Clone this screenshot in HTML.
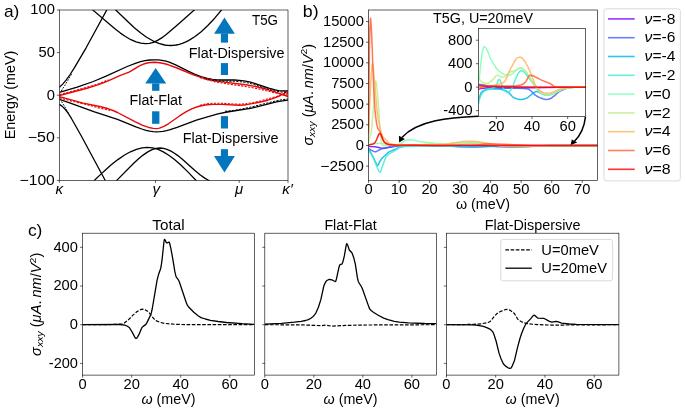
<!DOCTYPE html>
<html><head><meta charset="utf-8"><style>
html,body{margin:0;padding:0;background:#fff;}
body{width:685px;height:411px;overflow:hidden;}
svg{display:block;will-change:transform;font-family:"Liberation Sans",sans-serif;font-size:13.8px;}
</style></head><body>
<svg width="685" height="411" viewBox="0 0 685 411">
<rect width="685" height="411" fill="#fff"/>
<defs><clipPath id="ca"><rect x="59.35" y="10.0" width="228.65" height="170.4"/></clipPath><clipPath id="cb"><rect x="368.5" y="10" width="229" height="170.4"/></clipPath><clipPath id="ci"><rect x="478.5" y="28.5" width="107" height="88"/></clipPath><clipPath id="cc1"><rect x="82.55" y="233.4" width="171.95" height="141.6"/></clipPath><clipPath id="cc2"><rect x="264.65" y="233.4" width="171.85" height="141.6"/></clipPath><clipPath id="cc3"><rect x="446.65" y="233.4" width="172" height="141.6"/></clipPath></defs>
<path d="M59.4 92.4 77.2 87.1 93.3 81.5 106.1 76.2 127.2 66.5 135.4 63.3 140.5 61.7 145 60.7 149.6 60 154.2 59.8 158.3 59.9 162 60.4 166.1 61.2 169.8 62.4 175.7 64.9 188.1 71.1 194.5 74.1 200.9 76.6 207.4 78.4 212.4 79.4 217 79.9 221.1 80 234.4 80 239.4 80.3 244 80.8 248.1 81.6 252.3 82.7 268.8 88.1 275.2 89.9 278.8 90.6 282 90.9 285.3 91 288 90.8" fill="none" stroke="#000" stroke-width="1.3" stroke-linejoin="round" clip-path="url(#ca)"/>
<path d="M59.4 99.4 69 102.6 93.7 111.7 117.5 119.4 135.9 126.9 141.8 129 146 130.3 149.6 131.1 153.3 131.6 156.5 131.8 159.7 131.7 162.9 131.3 166.6 130.6 170.2 129.7 177.1 127.4 196.4 120.1 209.2 116.3 217.9 113.9 227.1 112 250.4 108.3 256.8 106.9 276.5 101.9 282.5 100.8 288 100.2" fill="none" stroke="#000" stroke-width="1.3" stroke-linejoin="round" clip-path="url(#ca)"/>
<path d="M59.4 95.7 67.1 93.5 87.8 88 99.2 84.4 107 81.4 119.8 75.6 129 72.1 131.7 70.7 138.6 66.4 142.7 64.4 145.5 63.5 148.2 62.8 151 62.5 154.2 62.3 157.4 62.5 161.1 63 164.7 63.8 168.4 64.8 175.7 67.5 194.1 75.1 200 77.1 206 78.8 212.9 80.3 220.2 81.6 245.8 84.8 256.4 86.7 263.7 88.5 271 90.6 279.3 93.3 288 96.5" fill="none" stroke="#e80808" stroke-width="1.4" stroke-linejoin="round" clip-path="url(#ca)"/>
<path d="M59.4 96.8 65.8 98.4 83.2 103.1 101 106.8 108.4 108.8 113 110.5 117.5 112.5 135.4 121.9 142.7 125.3 146.4 126.7 150.1 127.8 153.3 128.4 156 128.6 158.3 128.4 160.2 127.9 164.3 126.2 168.4 123.8 179.9 115.7 186.3 111.7 192.2 108.6 198.2 106.5 205.1 105 212.9 104.4 221.6 104.4 239.4 105.2 244 105 248.1 104.4 262.8 101.5 267.8 100.2 272 98.9 276.1 97.4 280.2 95.5 284.3 93.3 288 90.9" fill="none" stroke="#e80808" stroke-width="1.4" stroke-linejoin="round" clip-path="url(#ca)"/>
<path d="M59.4 94.7 94.4 85.2 99.1 83.6 108.4 79.8" fill="none" stroke="#e80808" stroke-width="1.2" stroke-dasharray="2.2 1.4" stroke-linejoin="round" clip-path="url(#ca)"/>
<path d="M59.4 97.8 71.5 101.1 85.8 104.3 96.9 107.4 110 110.3" fill="none" stroke="#e80808" stroke-width="1.2" stroke-dasharray="2.2 1.4" stroke-linejoin="round" clip-path="url(#ca)"/>
<path d="M205 78.7 209.7 79.9 215 80.7 220 81 234.6 81.3 239.8 81.7 244.4 82.3 248.6 83.1 252.9 84.2 268.7 89.2 275.2 91 282 92.1 288 92.3" fill="none" stroke="#000" stroke-width="1.0" stroke-dasharray="2.2 1.3" stroke-linejoin="round" clip-path="url(#ca)"/>
<path d="M200 77.7 207.8 80 216.2 82 225 83.5 244.3 86.3 252.6 87.7 260.1 89.2 278.1 93.6 283.2 94.6 288 95.2" fill="none" stroke="#e80808" stroke-width="1.1" stroke-dasharray="2.2 1.3" stroke-linejoin="round" clip-path="url(#ca)"/>
<path d="M200 105.4 203.2 104.5 206.3 103.9 213.4 103.2 220.6 103.2 237.4 104.2 242 104.1 246.9 103.6 253.3 102.5 261 100.7 288 93.4" fill="none" stroke="#e80808" stroke-width="1.1" stroke-dasharray="2.2 1.3" stroke-linejoin="round" clip-path="url(#ca)"/>
<path d="M225 111.3 233.3 110.5 242.5 108.9 252.4 106.7 275.2 101.1 281.9 99.7 288 98.9" fill="none" stroke="#000" stroke-width="1.0" stroke-dasharray="2.2 1.3" stroke-linejoin="round" clip-path="url(#ca)"/>
<path d="M59.4 87.3 62.7 84.1 66.3 79.9 70.1 74.5 74.5 67.6 86.4 47.3 107.3 9" fill="none" stroke="#000" stroke-width="1.3" stroke-linejoin="round" clip-path="url(#ca)"/>
<path d="M59.4 104.4 62 106.1 64.9 109 67.9 112.9 71.3 118.2 80.9 135.2 105.4 180.7" fill="none" stroke="#000" stroke-width="1.3" stroke-linejoin="round" clip-path="url(#ca)"/>
<path d="M92.3 9.6 114.9 28.8 120.4 33.1 125.4 36.5 130.9 39.7 136.1 41.9 140.8 43.2 145.5 43.7 149.6 43.3 153.5 42.3 157.6 40.4 161.7 37.9 166.5 34.2 175.9 26.2 186.4 17.1 194.8 9.5" fill="none" stroke="#000" stroke-width="1.3" stroke-linejoin="round" clip-path="url(#ca)"/>
<path d="M114.8 9.1 127.7 21.5 134.3 27.7 140.8 33 146.6 37.2 152.8 40.8 158.8 43.4 164.6 45 167.6 45.4 170.4 45.5 173.2 45.4 176.2 45 179.2 44.3 182.3 43.4 185.3 42.2 188.5 40.6 194.7 36.7 201.2 31.7 207.8 25.5 214.7 18.2 222 9.4" fill="none" stroke="#000" stroke-width="1.3" stroke-linejoin="round" clip-path="url(#ca)"/>
<path d="M94 180.7 103.3 171.9 110.9 165.1 117.9 159.6 124.2 155.2 130.4 151.8 136.4 149.3 142.1 147.8 147.5 147.3 152.6 147.8 157.5 149.2 162.9 151.6 168.4 155 174.2 159.3 180.6 164.8 187.6 171.6 196.6 181" fill="none" stroke="#000" stroke-width="1.3" stroke-linejoin="round" clip-path="url(#ca)"/>
<path d="M116 181.1 133.7 163.3 138.6 158.8 143.1 155.1 147.8 151.9 152.1 149.7 156.2 148.4 160.2 148 163.6 148.3 166.9 149.3 170.5 150.9 174.5 153.2 177.8 155.6 181.8 158.8 194.9 170.5 200 174.7 205.1 178.4 209.8 181" fill="none" stroke="#000" stroke-width="1.3" stroke-linejoin="round" clip-path="url(#ca)"/>
<path d="M61.2 91 65.3 84.7 72 73.4" fill="none" stroke="#000" stroke-width="0.9" stroke-dasharray="1.8 1.2" stroke-linejoin="round" clip-path="url(#ca)"/>
<path d="M61.5 101.5 65.1 107.2 68.5 113.5" fill="none" stroke="#000" stroke-width="0.9" stroke-dasharray="1.8 1.2" stroke-linejoin="round" clip-path="url(#ca)"/>
<polygon points="145.2,83.6 155.65,68 166.2,83.6" fill="#0476bd"/>
<rect x="152.1" y="83.4" width="7.3" height="7.4" fill="#0476bd"/>
<rect x="152.1" y="111.3" width="7.3" height="12.5" fill="#0476bd"/>
<polygon points="214.1,33.7 224.45,17.6 234.9,33.7" fill="#0476bd"/>
<rect x="220.9" y="33.5" width="7.1" height="9.1" fill="#0476bd"/>
<rect x="220.9" y="63.1" width="7.1" height="11.9" fill="#0476bd"/>
<rect x="220.9" y="116.1" width="7.1" height="12.4" fill="#0476bd"/>
<rect x="220.9" y="149.2" width="7.1" height="7.1" fill="#0476bd"/>
<polygon points="214,156.1 224.45,172.4 234.9,156.1" fill="#0476bd"/>
<text x="129.64" y="105.4" text-anchor="start" textLength="52.39" lengthAdjust="spacingAndGlyphs" fill="#000" >Flat-Flat</text>
<text x="188.74" y="57.6" text-anchor="start" textLength="95.79" lengthAdjust="spacingAndGlyphs" fill="#000" >Flat-Dispersive</text>
<text x="182.74" y="143.3" text-anchor="start" textLength="95.79" lengthAdjust="spacingAndGlyphs" fill="#000" >Flat-Dispersive</text>
<text x="252" y="24.9" text-anchor="start" textLength="25.98" lengthAdjust="spacingAndGlyphs" fill="#000" >T5G</text>
<rect x="59.35" y="10" width="228.65" height="170.4" fill="none" stroke="#000" stroke-width="0.62"/>
<line x1="56.85" y1="10" x2="59.35" y2="10" stroke="#000" stroke-width="0.62"/>
<text x="54.85" y="14.4" text-anchor="end" textLength="24.53" lengthAdjust="spacingAndGlyphs" fill="#000" >100</text>
<line x1="56.85" y1="52.6" x2="59.35" y2="52.6" stroke="#000" stroke-width="0.62"/>
<text x="54.85" y="57" text-anchor="end" textLength="16.35" lengthAdjust="spacingAndGlyphs" fill="#000" >50</text>
<line x1="56.85" y1="95.2" x2="59.35" y2="95.2" stroke="#000" stroke-width="0.62"/>
<text x="54.85" y="99.6" text-anchor="end" textLength="8.18" lengthAdjust="spacingAndGlyphs" fill="#000" >0</text>
<line x1="56.85" y1="137.8" x2="59.35" y2="137.8" stroke="#000" stroke-width="0.62"/>
<text x="54.85" y="142.2" text-anchor="end" textLength="27.12" lengthAdjust="spacingAndGlyphs" fill="#000" >−50</text>
<line x1="56.85" y1="180.4" x2="59.35" y2="180.4" stroke="#000" stroke-width="0.62"/>
<text x="54.85" y="184.8" text-anchor="end" textLength="35.29" lengthAdjust="spacingAndGlyphs" fill="#000" >−100</text>
<line x1="59.35" y1="180.4" x2="59.35" y2="182.9" stroke="#000" stroke-width="0.62"/>
<line x1="155.5" y1="180.4" x2="155.5" y2="182.9" stroke="#000" stroke-width="0.62"/>
<line x1="239.2" y1="180.4" x2="239.2" y2="182.9" stroke="#000" stroke-width="0.62"/>
<line x1="288" y1="180.4" x2="288" y2="182.9" stroke="#000" stroke-width="0.62"/>
<text x="59.3" y="194.3" text-anchor="middle" textLength="7.57" lengthAdjust="spacingAndGlyphs" fill="#000" ><tspan style="font-style:italic;">κ</tspan></text>
<text x="156.3" y="194.3" text-anchor="middle" textLength="7.6" lengthAdjust="spacingAndGlyphs" fill="#000" ><tspan style="font-style:italic;">γ</tspan></text>
<text x="239" y="194.3" text-anchor="middle" textLength="8.18" lengthAdjust="spacingAndGlyphs" fill="#000" ><tspan style="font-style:italic;">μ</tspan></text>
<text x="287.6" y="194.3" text-anchor="middle" textLength="10.49" lengthAdjust="spacingAndGlyphs" fill="#000" ><tspan style="font-style:italic;">κ′</tspan></text>
<text x="14.7" y="94.95" text-anchor="middle" textLength="88.54" lengthAdjust="spacingAndGlyphs" transform="rotate(-90 14.7 94.95)" fill="#000" >Energy (meV)</text>
<text x="3.9" y="16.6" text-anchor="start" textLength="15.45" lengthAdjust="spacingAndGlyphs" fill="#000"  font-size="16.1">a)</text>
<path d="M368.5 146.1 369.6 146.4 375.2 146.7 380.9 148.1 383.5 148.5 396 145.9 404.9 145.6 597.5 145.4" fill="none" stroke="#8000ff" stroke-width="1.5" stroke-linejoin="round" stroke-opacity="0.85" clip-path="url(#cb)"/>
<path d="M368.5 147.9 369 148.8 370.2 149.8 373.8 151.4 375.4 151.7 376.6 151.4 381.2 149 382.9 148.3 388.2 147.3 395.2 146.3 398 145.2 398.9 145 433.4 145.6 483.8 145.7 498.5 146.7 514.7 147.2 523.6 147 536.7 146.1 551.1 145.6 597.5 145.4" fill="none" stroke="#4062fa" stroke-width="1.5" stroke-linejoin="round" stroke-opacity="0.85" clip-path="url(#cb)"/>
<path d="M368.5 148.8 369.3 150.5 371.4 153.7 376.7 164.6 377.2 165.3 377.7 165.5 378.3 164.8 379.5 162 381.5 158.8 386.5 154 388.7 152.2 390.7 151.1 395.2 149.3 398.6 147.4 404.2 146.2 415.4 145.7 437.7 145.7 447.8 146.1 460.5 147 473.8 147.2 482.3 147 498 146.1 516.5 146.6 550.3 145.6 597.5 145.4" fill="none" stroke="#00b4ec" stroke-width="1.5" stroke-linejoin="round" stroke-opacity="0.85" clip-path="url(#cb)"/>
<path d="M368.5 149.2 368.8 150.8 369.3 151.8 371.2 154.1 373.2 157.5 377.4 168 379.2 171.5 380 172.3 380.3 172.1 380.6 171.5 383.5 163.2 385.3 158.5 386.2 156.7 387.3 155.4 389.1 153.8 394.2 151.2 399.2 147.7 401.5 146.9 404.4 146.4 410.8 145.9 427 145.4 434.5 144.3 436.3 144.5 444.1 146 450.8 146.2 455.9 145.7 462.9 144.2 467 143.5 472.2 143.1 479.6 143.5 502.6 146 514.5 146.6 524.9 146.4 550.6 145.6 597.5 145.4" fill="none" stroke="#40ecd4" stroke-width="1.5" stroke-linejoin="round" stroke-opacity="0.85" clip-path="url(#cb)"/>
<path d="M368.5 145.3 374.6 143.8 377.1 143.5 380.3 143.4 382.2 143.6 391.6 145.4 396.8 145.2 399.1 144.7 400.1 144.2 403.2 141.9 405.5 140.5 407.2 140 409.1 139.7 413.3 140.1 419.2 141.4 428.1 142.6 434.5 143.2 442.7 143.7 451 143.8 456.8 143.6 468.7 142.8 472.2 142.8 481.2 143.4 498.5 145.6 506 146.2 513 146.5 524.5 146.5 542 145.7 551.1 145.6 597.5 145.4" fill="none" stroke="#80ffb4" stroke-width="1.5" stroke-linejoin="round" stroke-opacity="0.85" clip-path="url(#cb)"/>
<path d="M368.5 143 369.1 139 370.9 133.8 371.7 129.5 373.4 108.3 374.5 89.2 375.2 82.7 375.7 81 376 81.5 376.3 82.9 377.4 91.7 380.6 136.7 381.5 142.5 382.2 144.8 382.9 145.7 394.5 145 398.9 144.2 406.1 144.8 414 144.9 421.2 144.6 429.8 143.8 443.1 144 452.1 143.3 471.6 142.7 480.8 143.3 500 145.8 506.8 146.3 514.1 146.6 524.8 146.4 550.8 145.6 597.5 145.4" fill="none" stroke="#bfec8e" stroke-width="1.5" stroke-linejoin="round" stroke-opacity="0.85" clip-path="url(#cb)"/>
<path d="M368.5 135.5 369.4 109.5 371.1 76.6 371.9 67.4 372.3 64.2 372.6 63.6 373.1 65.7 373.8 72.6 377.2 112.2 378.1 118.7 379.3 125 381.5 133.5 382.6 136.1 383.8 137.8 387.6 141.8 388.8 142.8 390 143.4 392.8 144.2 398.7 145.3 420 145.2 438 144.9 445.6 144.4 455 142.7 462.9 141.5 471 141.2 475.7 141.5 482.8 142.4 497.9 145.3 503.5 145.9 510.3 146.2 522.3 146.3 551.5 145.5 597.5 145.4" fill="none" stroke="#ffb462" stroke-width="1.5" stroke-linejoin="round" stroke-opacity="0.85" clip-path="url(#cb)"/>
<path d="M368.5 133.1 369.4 49.9 369.9 28.3 370.3 19.9 370.6 18.3 370.9 21.2 371.7 35.1 373.8 90.7 374.9 108.9 375.7 117 376.7 124.4 377.7 128.1 378.3 129.4 379.8 131.4 380.4 132.5 382.1 137.9 382.9 139.6 384.4 142 385.6 143 387.6 143.9 389.6 144.5 396 145.1 399.1 145.6 411.3 145.3 471.6 145.1 478.3 144.8 484.9 143.9 488.7 143.8 521.1 144.9 530 145.4 597.5 145.4" fill="none" stroke="#ff6232" stroke-width="1.5" stroke-linejoin="round" stroke-opacity="0.85" clip-path="url(#cb)"/>
<path d="M368.5 145.1 372.9 144 374.3 143.2 375.4 141.9 376.4 140 378.7 134.4 379.5 133.6 380 133.5 380.4 133.8 381.2 135 383.5 141 384.2 142 385.5 143.1 386.5 143.8 388.5 144.4 391.3 144.8 394.5 145.1 434.3 145.4 597.5 145.4" fill="none" stroke="#ff0000" stroke-width="1.5" stroke-linejoin="round" stroke-opacity="0.85" clip-path="url(#cb)"/>
<rect x="368.5" y="10" width="229" height="170.4" fill="none" stroke="#000" stroke-width="0.62"/>
<line x1="366" y1="166.1" x2="368.5" y2="166.1" stroke="#000" stroke-width="0.62"/>
<text x="363.85" y="170.5" text-anchor="end" textLength="43.47" lengthAdjust="spacingAndGlyphs" fill="#000" >−2500</text>
<line x1="366" y1="145.45" x2="368.5" y2="145.45" stroke="#000" stroke-width="0.62"/>
<text x="363.85" y="149.85" text-anchor="end" textLength="8.18" lengthAdjust="spacingAndGlyphs" fill="#000" >0</text>
<line x1="366" y1="124.8" x2="368.5" y2="124.8" stroke="#000" stroke-width="0.62"/>
<text x="363.85" y="129.2" text-anchor="end" textLength="32.7" lengthAdjust="spacingAndGlyphs" fill="#000" >2500</text>
<line x1="366" y1="104.15" x2="368.5" y2="104.15" stroke="#000" stroke-width="0.62"/>
<text x="363.85" y="108.55" text-anchor="end" textLength="32.7" lengthAdjust="spacingAndGlyphs" fill="#000" >5000</text>
<line x1="366" y1="83.5" x2="368.5" y2="83.5" stroke="#000" stroke-width="0.62"/>
<text x="363.85" y="87.9" text-anchor="end" textLength="32.7" lengthAdjust="spacingAndGlyphs" fill="#000" >7500</text>
<line x1="366" y1="62.85" x2="368.5" y2="62.85" stroke="#000" stroke-width="0.62"/>
<text x="363.85" y="67.25" text-anchor="end" textLength="40.88" lengthAdjust="spacingAndGlyphs" fill="#000" >10000</text>
<line x1="366" y1="42.2" x2="368.5" y2="42.2" stroke="#000" stroke-width="0.62"/>
<text x="363.85" y="46.6" text-anchor="end" textLength="40.88" lengthAdjust="spacingAndGlyphs" fill="#000" >12500</text>
<line x1="366" y1="21.55" x2="368.5" y2="21.55" stroke="#000" stroke-width="0.62"/>
<text x="363.85" y="25.95" text-anchor="end" textLength="40.88" lengthAdjust="spacingAndGlyphs" fill="#000" >15000</text>
<line x1="368.5" y1="180.4" x2="368.5" y2="182.9" stroke="#000" stroke-width="0.62"/>
<text x="368.5" y="194.2" text-anchor="middle" textLength="8.18" lengthAdjust="spacingAndGlyphs" fill="#000" >0</text>
<line x1="399.03" y1="180.4" x2="399.03" y2="182.9" stroke="#000" stroke-width="0.62"/>
<text x="399.03" y="194.2" text-anchor="middle" textLength="16.35" lengthAdjust="spacingAndGlyphs" fill="#000" >10</text>
<line x1="429.57" y1="180.4" x2="429.57" y2="182.9" stroke="#000" stroke-width="0.62"/>
<text x="429.57" y="194.2" text-anchor="middle" textLength="16.35" lengthAdjust="spacingAndGlyphs" fill="#000" >20</text>
<line x1="460.1" y1="180.4" x2="460.1" y2="182.9" stroke="#000" stroke-width="0.62"/>
<text x="460.1" y="194.2" text-anchor="middle" textLength="16.35" lengthAdjust="spacingAndGlyphs" fill="#000" >30</text>
<line x1="490.63" y1="180.4" x2="490.63" y2="182.9" stroke="#000" stroke-width="0.62"/>
<text x="490.63" y="194.2" text-anchor="middle" textLength="16.35" lengthAdjust="spacingAndGlyphs" fill="#000" >40</text>
<line x1="521.17" y1="180.4" x2="521.17" y2="182.9" stroke="#000" stroke-width="0.62"/>
<text x="521.17" y="194.2" text-anchor="middle" textLength="16.35" lengthAdjust="spacingAndGlyphs" fill="#000" >50</text>
<line x1="551.7" y1="180.4" x2="551.7" y2="182.9" stroke="#000" stroke-width="0.62"/>
<text x="551.7" y="194.2" text-anchor="middle" textLength="16.35" lengthAdjust="spacingAndGlyphs" fill="#000" >60</text>
<line x1="582.23" y1="180.4" x2="582.23" y2="182.9" stroke="#000" stroke-width="0.62"/>
<text x="582.23" y="194.2" text-anchor="middle" textLength="16.35" lengthAdjust="spacingAndGlyphs" fill="#000" >70</text>
<text x="483" y="209" text-anchor="middle" textLength="54.09" lengthAdjust="spacingAndGlyphs" fill="#000" >ω (meV)</text>
<text x="312.5" y="94.75" text-anchor="middle" textLength="101.6" lengthAdjust="spacingAndGlyphs" transform="rotate(-90 312.5 94.75)" fill="#000" ><tspan style="font-style:italic;">σ</tspan><tspan style="font-style:italic;font-size:9.94px;" dy="2">xxy</tspan><tspan dy="-2"> (</tspan><tspan style="font-style:italic;">μA</tspan>. <tspan style="font-style:italic;">nm</tspan>/<tspan style="font-style:italic;">V</tspan><tspan style="font-size:9.94px;" dy="-5.8">2</tspan><tspan dy="5.8">)</tspan></text>
<text x="433.1" y="23" text-anchor="start" textLength="99.89" lengthAdjust="spacingAndGlyphs" fill="#000" >T5G, U=20meV</text>
<text x="302.8" y="16.9" text-anchor="start" textLength="15.78" lengthAdjust="spacingAndGlyphs" fill="#000"  font-size="16.1">b)</text>
<rect x="478.5" y="28.5" width="107" height="88" fill="#fff"/>
<path d="M478.5 89.4 481.8 88.4 487.2 87.8 534.1 87.7 559.6 87.2 589.1 87.2" fill="none" stroke="#8000ff" stroke-width="1.5" stroke-linejoin="round" stroke-opacity="0.85" clip-path="url(#ci)"/>
<path d="M478.5 84.3 483.8 85 494.1 87.6 498.6 88.3 517.5 88.3 524.4 88.5 528 89 529.1 89.5 531.1 91 534.5 94.6 536.6 96 539.2 97.4 542.8 98.7 544.6 99.3 546 99.5 548.4 99.2 551.3 98.2 554.6 95.7 557.5 92.9 558.9 91.8 561.9 90.2 567.1 88 570.4 87.5 573.7 87.2 589.1 87.2" fill="none" stroke="#4062fa" stroke-width="1.5" stroke-linejoin="round" stroke-opacity="0.85" clip-path="url(#ci)"/>
<path d="M478.5 99.8 480.7 93.7 481.5 92.2 482.8 91.1 484.2 90.3 486.5 89.5 488.3 89.1 497.7 89 500.8 89.2 503.1 89.8 505.6 90.7 508.3 92.4 509.6 93.6 512.3 96.6 513.9 97.7 517.1 98.9 519.9 99.4 522 99.5 524 99.1 527.1 98 528.6 96.9 532.2 93.8 534.8 92.1 536.3 91.5 537.2 91.5 538.1 91.8 544.8 95 545.9 95.2 547.1 95.2 549.5 94.8 552.4 94.1 561.8 89.3 566.1 88.1 573.8 87.2 589.1 87.2" fill="none" stroke="#00b4ec" stroke-width="1.5" stroke-linejoin="round" stroke-opacity="0.85" clip-path="url(#ci)"/>
<path d="M478.5 103.9 479.1 100.9 480.2 97.1 481.3 94.7 482.7 92.8 484.2 91.3 486 90.2 493.4 87.7 494.8 87 496.8 84.2 498.4 80.1 499.1 79.3 499.7 79.6 500.2 80.4 503.1 87.9 504.9 91 505.6 91.6 507.3 92.5 508.1 92.6 508.9 92.2 510.5 90.6 511.7 88.7 513.2 85.2 515.9 78.1 518.1 73.7 519.6 71.5 521.1 70.6 522 70.8 523.3 71.5 525.5 73.5 535.7 87.2 539.1 91 542 93.4 544.4 94.5 545.9 95.1 548.2 95.1 552 94.2 553.9 93.4 561.8 89.3 566.4 88.1 573.8 87.2 589.1 87.2" fill="none" stroke="#40ecd4" stroke-width="1.5" stroke-linejoin="round" stroke-opacity="0.85" clip-path="url(#ci)"/>
<path d="M478.5 81.9 479.5 76.3 480.9 62.7 482.2 52.3 483.3 47.9 484 46.8 484.5 46.6 485 46.9 485.8 47.8 486.9 49.6 488.3 52.8 490 57.5 491 59.4 496.4 68.3 497.5 69.7 499.1 71.2 502.3 73.5 504 74.4 506.9 75.2 508.8 75.3 510.3 74.9 512.3 74 515.4 70.7 519.2 68.2 520.3 67.8 521.3 68 524.4 70.2 526.5 72.4 529.3 76.6 532.7 83 534.8 86.1 536.6 88.4 539.1 91 540.9 92.6 542.3 93.5 544.9 94.8 546.3 95.2 547.6 95.2 551.7 94.3 553.8 93.5 561.9 89.3 566.8 88 573.8 87.2 589.1 87.2" fill="none" stroke="#80ffb4" stroke-width="1.5" stroke-linejoin="round" stroke-opacity="0.85" clip-path="url(#ci)"/>
<path d="M478.5 78 480.2 80.3 482.7 82.5 485.3 83.5 487.2 83.4 489 82.7 491.5 80.9 494.4 78 495.8 76.1 496.5 75.5 498 75.3 499.4 76.2 501.9 77.3 502.9 77.3 504.2 76.9 505.1 76.5 506.2 75.7 507.8 73.5 509.5 71.9 514.1 71 517.1 69.5 519.2 68.2 521 67.7 521.8 68 523.8 69.5 526.4 72.3 529.4 76.8 535.2 86.4 537.5 89.3 539.5 91.4 541.3 92.9 543.7 94.2 545.6 95 546.7 95.2 548.1 95.1 552 94.2 553.9 93.4 561.8 89.3 563.7 88.7 566.5 88.1 573.8 87.2 589.1 87.2" fill="none" stroke="#bfec8e" stroke-width="1.5" stroke-linejoin="round" stroke-opacity="0.85" clip-path="url(#ci)"/>
<path d="M478.5 86 487.9 85.9 493 85.4 499.8 84 501.9 83.3 503.4 82.6 504.9 81.1 506 79.4 511 67.8 515.6 59.6 516.4 58.5 517.2 57.9 518.5 57.4 520.4 57.1 521.5 57.6 523.2 59.2 525.7 62.8 527.3 65.6 529.6 70.3 534.8 83.8 536.1 86.1 537.5 88.1 538.8 89.6 540.8 91.2 542.4 92.1 544.5 93 545.8 93.2 550.3 93 553.6 91.9 556.7 90.3 558.5 89.6 564.2 88.2 567.6 87.6 573.8 87.2 589.1 87.2" fill="none" stroke="#ffb462" stroke-width="1.5" stroke-linejoin="round" stroke-opacity="0.85" clip-path="url(#ci)"/>
<path d="M478.5 88.3 483.9 86.6 485.7 86.3 491.6 86 514.8 85.9 520.8 85 522.6 84.3 524.9 82.6 526.4 80.7 528.6 76.3 529.7 75.5 530.9 75.3 533.6 76 541.5 80.1 549.9 83.5 552.8 85.3 554.2 86.6 554.9 87 557 87.2 589.1 87.2" fill="none" stroke="#ff6232" stroke-width="1.5" stroke-linejoin="round" stroke-opacity="0.85" clip-path="url(#ci)"/>
<path d="M478.5 85.4 487.4 86.3 506.2 86.8 547.7 87.2 589.1 87.2" fill="none" stroke="#ff0000" stroke-width="1.5" stroke-linejoin="round" stroke-opacity="0.85" clip-path="url(#ci)"/>
<rect x="478.5" y="28.5" width="107" height="88" fill="none" stroke="#000" stroke-width="0.62"/>
<line x1="476" y1="110.64" x2="478.5" y2="110.64" stroke="#000" stroke-width="0.62"/>
<text x="472.55" y="115.04" text-anchor="end" textLength="29.16" lengthAdjust="spacingAndGlyphs" fill="#000" >-400</text>
<line x1="476" y1="87.17" x2="478.5" y2="87.17" stroke="#000" stroke-width="0.62"/>
<text x="472.55" y="91.57" text-anchor="end" textLength="8.18" lengthAdjust="spacingAndGlyphs" fill="#000" >0</text>
<line x1="476" y1="63.7" x2="478.5" y2="63.7" stroke="#000" stroke-width="0.62"/>
<text x="472.55" y="68.1" text-anchor="end" textLength="24.53" lengthAdjust="spacingAndGlyphs" fill="#000" >400</text>
<line x1="476" y1="40.23" x2="478.5" y2="40.23" stroke="#000" stroke-width="0.62"/>
<text x="472.55" y="44.63" text-anchor="end" textLength="24.53" lengthAdjust="spacingAndGlyphs" fill="#000" >800</text>
<line x1="496.33" y1="116.5" x2="496.33" y2="119" stroke="#000" stroke-width="0.62"/>
<text x="496.33" y="131" text-anchor="middle" textLength="16.35" lengthAdjust="spacingAndGlyphs" fill="#000" >20</text>
<line x1="532" y1="116.5" x2="532" y2="119" stroke="#000" stroke-width="0.62"/>
<text x="532" y="131" text-anchor="middle" textLength="16.35" lengthAdjust="spacingAndGlyphs" fill="#000" >40</text>
<line x1="567.67" y1="116.5" x2="567.67" y2="119" stroke="#000" stroke-width="0.62"/>
<text x="567.67" y="131" text-anchor="middle" textLength="16.35" lengthAdjust="spacingAndGlyphs" fill="#000" >60</text>
<path d="M478.3 116.2C450 117.5 418 120 401.9 137.4" fill="none" stroke="#000" stroke-width="1.5"/>
<polygon points="399.1,142.6 398.9,135.7 404.9,138.9" fill="#000"/>
<path d="M585.5 116.6C584.5 125.6 581.1 134.7 574.5 141.2" fill="none" stroke="#000" stroke-width="1.5"/>
<polygon points="570.6,144.9 571.8,139.6 577.3,142.6" fill="#000"/>
<rect x="603.9" y="8.8" width="76.4" height="172.1" rx="2.5" fill="#fff" stroke="#d6d6d6" stroke-width="0.9"/>
<line x1="608" y1="18.9" x2="634.7" y2="18.9" stroke="#8000ff" stroke-width="1.6" stroke-opacity="0.8"/>
<text x="644.6" y="23.5" text-anchor="start" textLength="30.76" lengthAdjust="spacingAndGlyphs" fill="#000" ><tspan style="font-style:italic;">ν</tspan>=-8</text>
<line x1="608" y1="37.7" x2="634.7" y2="37.7" stroke="#4062fa" stroke-width="1.6" stroke-opacity="0.8"/>
<text x="644.6" y="42.3" text-anchor="start" textLength="30.76" lengthAdjust="spacingAndGlyphs" fill="#000" ><tspan style="font-style:italic;">ν</tspan>=-6</text>
<line x1="608" y1="56.5" x2="634.7" y2="56.5" stroke="#00b4ec" stroke-width="1.6" stroke-opacity="0.8"/>
<text x="644.6" y="61.1" text-anchor="start" textLength="30.76" lengthAdjust="spacingAndGlyphs" fill="#000" ><tspan style="font-style:italic;">ν</tspan>=-4</text>
<line x1="608" y1="75.3" x2="634.7" y2="75.3" stroke="#40ecd4" stroke-width="1.6" stroke-opacity="0.8"/>
<text x="644.6" y="79.9" text-anchor="start" textLength="30.76" lengthAdjust="spacingAndGlyphs" fill="#000" ><tspan style="font-style:italic;">ν</tspan>=-2</text>
<line x1="608" y1="94.1" x2="634.7" y2="94.1" stroke="#80ffb4" stroke-width="1.6" stroke-opacity="0.8"/>
<text x="644.6" y="98.7" text-anchor="start" textLength="26.12" lengthAdjust="spacingAndGlyphs" fill="#000" ><tspan style="font-style:italic;">ν</tspan>=0</text>
<line x1="608" y1="112.9" x2="634.7" y2="112.9" stroke="#bfec8e" stroke-width="1.6" stroke-opacity="0.8"/>
<text x="644.6" y="117.5" text-anchor="start" textLength="26.12" lengthAdjust="spacingAndGlyphs" fill="#000" ><tspan style="font-style:italic;">ν</tspan>=2</text>
<line x1="608" y1="131.7" x2="634.7" y2="131.7" stroke="#ffb462" stroke-width="1.6" stroke-opacity="0.8"/>
<text x="644.6" y="136.3" text-anchor="start" textLength="26.12" lengthAdjust="spacingAndGlyphs" fill="#000" ><tspan style="font-style:italic;">ν</tspan>=4</text>
<line x1="608" y1="150.5" x2="634.7" y2="150.5" stroke="#ff6232" stroke-width="1.6" stroke-opacity="0.8"/>
<text x="644.6" y="155.1" text-anchor="start" textLength="26.12" lengthAdjust="spacingAndGlyphs" fill="#000" ><tspan style="font-style:italic;">ν</tspan>=6</text>
<line x1="608" y1="169.3" x2="634.7" y2="169.3" stroke="#ff0000" stroke-width="1.6" stroke-opacity="0.8"/>
<text x="644.6" y="173.9" text-anchor="start" textLength="26.12" lengthAdjust="spacingAndGlyphs" fill="#000" ><tspan style="font-style:italic;">ν</tspan>=8</text>
<path d="M82.6 324.7 113.3 324.5 122.2 324 124.2 323.1 127.9 320.3 133 315.1 136.8 311.8 140.5 309.7 141.6 309.4 142.8 309.2 143.9 309.4 145.4 309.9 148.5 311.9 152 316.6 154.5 319.4 156 320.6 160.3 322.4 164.6 323.4 175.5 324.3 186.7 324.7 254.3 324.7" fill="none" stroke="#000" stroke-width="1.2" stroke-dasharray="3.6 1.6" stroke-linejoin="round" clip-path="url(#cc1)"/>
<path d="M82.6 324.7 119.6 324.5 124.7 325.1 127 326 129.3 327.5 132.2 332.1 135.1 337.7 135.9 338.4 136.8 338.1 137.6 336.9 139.4 333.6 141.9 327.6 143.1 326.4 145.7 324.6 146.8 322.9 150.2 315.9 151.4 312.7 152.3 308.5 157.1 280.2 158.6 274.3 160.6 268.7 161.1 266.5 162 260.2 164 241.5 164.3 239.9 164.6 239.4 165.2 240.1 166 242 166.6 242.8 167.2 242.8 168.9 242.1 169.2 242.2 169.7 243.5 170.9 248.7 172.9 259.6 174.9 271.9 175.8 275.7 176.3 277.1 178.3 279.7 179.2 281.5 186.4 303 187.5 305.4 188.4 306.7 193.8 312.3 198.1 315.8 201 317.6 205.3 319 210.4 320.3 218.2 321.5 226.5 322.5 242 323.7 254.3 324.3" fill="none" stroke="#000" stroke-width="1.3" stroke-linejoin="round" clip-path="url(#cc1)"/>
<rect x="82.6" y="233.2" width="171.7" height="141.9" fill="none" stroke="#000" stroke-width="0.62"/>
<line x1="80.1" y1="363.38" x2="82.6" y2="363.38" stroke="#000" stroke-width="0.62"/>
<text x="77.95" y="367.78" text-anchor="end" textLength="29.16" lengthAdjust="spacingAndGlyphs" fill="#000" >-200</text>
<line x1="80.1" y1="324.7" x2="82.6" y2="324.7" stroke="#000" stroke-width="0.62"/>
<text x="77.95" y="329.1" text-anchor="end" textLength="8.18" lengthAdjust="spacingAndGlyphs" fill="#000" >0</text>
<line x1="80.1" y1="286.02" x2="82.6" y2="286.02" stroke="#000" stroke-width="0.62"/>
<text x="77.95" y="290.42" text-anchor="end" textLength="24.53" lengthAdjust="spacingAndGlyphs" fill="#000" >200</text>
<line x1="80.1" y1="247.34" x2="82.6" y2="247.34" stroke="#000" stroke-width="0.62"/>
<text x="77.95" y="251.74" text-anchor="end" textLength="24.53" lengthAdjust="spacingAndGlyphs" fill="#000" >400</text>
<line x1="82.6" y1="375.1" x2="82.6" y2="377.6" stroke="#000" stroke-width="0.62"/>
<text x="82.6" y="389" text-anchor="middle" textLength="8.18" lengthAdjust="spacingAndGlyphs" fill="#000" >0</text>
<line x1="131.66" y1="375.1" x2="131.66" y2="377.6" stroke="#000" stroke-width="0.62"/>
<text x="131.66" y="389" text-anchor="middle" textLength="16.35" lengthAdjust="spacingAndGlyphs" fill="#000" >20</text>
<line x1="180.71" y1="375.1" x2="180.71" y2="377.6" stroke="#000" stroke-width="0.62"/>
<text x="180.71" y="389" text-anchor="middle" textLength="16.35" lengthAdjust="spacingAndGlyphs" fill="#000" >40</text>
<line x1="229.77" y1="375.1" x2="229.77" y2="377.6" stroke="#000" stroke-width="0.62"/>
<text x="229.77" y="389" text-anchor="middle" textLength="16.35" lengthAdjust="spacingAndGlyphs" fill="#000" >60</text>
<text x="168.45" y="404" text-anchor="middle" textLength="54.09" lengthAdjust="spacingAndGlyphs" fill="#000" ><tspan style="font-style:italic;">ω</tspan> (meV)</text>
<text x="168.45" y="229.5" text-anchor="middle" textLength="32.19" lengthAdjust="spacingAndGlyphs" fill="#000" >Total</text>
<path d="M264.8 324.7 302.9 324.9 320.9 325.7 326.1 325.1 331 326.1 345.9 325.4 367.9 325 436.4 324.7" fill="none" stroke="#000" stroke-width="1.2" stroke-dasharray="3.6 1.6" stroke-linejoin="round" clip-path="url(#cc2)"/>
<path d="M264.8 324.1 281.7 323.4 294.3 322.2 301.2 321.3 305.5 320.5 308.3 319.6 310.9 318.2 313.2 316.4 314.9 314.4 316.1 312.6 318.4 307.3 320.9 299.4 323.8 286 324.7 283.9 325.8 281.7 326.4 281 327.3 280.3 328.4 279.7 329.5 279.5 330.7 279.6 332.7 280.2 335 281.5 335.6 281.5 335.8 281.1 336.4 279.1 339 267.2 339.6 265.4 340.1 264.7 341.6 264.2 342.1 263.7 343 261.5 344.4 255.7 346.2 245.2 346.7 243.7 347 243.8 347.6 244.9 349.3 250 351.9 252.8 352.7 254.7 353.6 257.2 355.3 263.9 357.3 277.2 358.2 281.2 359.1 283 361.3 286.5 362.2 288.3 369.1 307.6 369.9 309.2 371.4 310.7 373.4 312.2 378.2 315.2 383.7 318.1 388 319.7 394.3 321.3 399.4 322.1 408.3 322.8 424.7 323.5 436.4 323.7" fill="none" stroke="#000" stroke-width="1.3" stroke-linejoin="round" clip-path="url(#cc2)"/>
<rect x="264.8" y="233.2" width="171.6" height="141.9" fill="none" stroke="#000" stroke-width="0.62"/>
<line x1="262.3" y1="363.38" x2="264.8" y2="363.38" stroke="#000" stroke-width="0.62"/>
<line x1="262.3" y1="324.7" x2="264.8" y2="324.7" stroke="#000" stroke-width="0.62"/>
<line x1="262.3" y1="286.02" x2="264.8" y2="286.02" stroke="#000" stroke-width="0.62"/>
<line x1="262.3" y1="247.34" x2="264.8" y2="247.34" stroke="#000" stroke-width="0.62"/>
<line x1="264.8" y1="375.1" x2="264.8" y2="377.6" stroke="#000" stroke-width="0.62"/>
<text x="264.8" y="389" text-anchor="middle" textLength="8.18" lengthAdjust="spacingAndGlyphs" fill="#000" >0</text>
<line x1="313.83" y1="375.1" x2="313.83" y2="377.6" stroke="#000" stroke-width="0.62"/>
<text x="313.83" y="389" text-anchor="middle" textLength="16.35" lengthAdjust="spacingAndGlyphs" fill="#000" >20</text>
<line x1="362.86" y1="375.1" x2="362.86" y2="377.6" stroke="#000" stroke-width="0.62"/>
<text x="362.86" y="389" text-anchor="middle" textLength="16.35" lengthAdjust="spacingAndGlyphs" fill="#000" >40</text>
<line x1="411.89" y1="375.1" x2="411.89" y2="377.6" stroke="#000" stroke-width="0.62"/>
<text x="411.89" y="389" text-anchor="middle" textLength="16.35" lengthAdjust="spacingAndGlyphs" fill="#000" >60</text>
<text x="350.6" y="404" text-anchor="middle" textLength="54.09" lengthAdjust="spacingAndGlyphs" fill="#000" ><tspan style="font-style:italic;">ω</tspan> (meV)</text>
<text x="350.6" y="229.5" text-anchor="middle" textLength="52.39" lengthAdjust="spacingAndGlyphs" fill="#000" >Flat-Flat</text>
<path d="M446.4 324.7 473.2 324.4 481.2 323.8 486.4 322.9 489 322.1 490.2 321.4 491.9 319.5 495.4 315.1 497.1 313.5 500.5 311.5 503.1 310.3 505.1 309.7 507.2 309.4 508.3 309.6 509.8 310.1 513.5 312.6 514.7 314 517.5 318.8 519 320.3 521.6 321.8 523.9 322.8 526.2 323.4 529.3 323.9 537.1 324.6 551.8 325.1 618.9 324.7" fill="none" stroke="#000" stroke-width="1.2" stroke-dasharray="3.6 1.6" stroke-linejoin="round" clip-path="url(#cc3)"/>
<path d="M446.4 324.7 471.2 324.9 476.3 325.2 480.7 325.8 483.5 326.4 487.3 327.8 489.9 329.1 491.3 330.3 492.8 331.9 493.9 334.2 496.2 341.5 499.1 353.4 501.1 359 502.6 362.3 504 364.6 506 366.4 508 367.8 510 368.4 510.9 368.1 511.8 366.9 514.4 360.8 517.5 347.6 520.1 338 521.6 333.5 523.6 328.5 525.3 325 526.7 322.9 530.8 318.6 532.8 316.1 533.7 315.3 534.2 315.2 534.8 315.4 537.1 317.5 538 318.1 543.7 318.3 549.5 321.4 551.8 322.2 556.1 321.4 557.6 321.7 561.6 323.1 569.1 324 576.3 324.4 618.9 324.7" fill="none" stroke="#000" stroke-width="1.3" stroke-linejoin="round" clip-path="url(#cc3)"/>
<rect x="446.4" y="233.2" width="172.5" height="141.9" fill="none" stroke="#000" stroke-width="0.62"/>
<line x1="443.9" y1="363.38" x2="446.4" y2="363.38" stroke="#000" stroke-width="0.62"/>
<line x1="443.9" y1="324.7" x2="446.4" y2="324.7" stroke="#000" stroke-width="0.62"/>
<line x1="443.9" y1="286.02" x2="446.4" y2="286.02" stroke="#000" stroke-width="0.62"/>
<line x1="443.9" y1="247.34" x2="446.4" y2="247.34" stroke="#000" stroke-width="0.62"/>
<line x1="446.4" y1="375.1" x2="446.4" y2="377.6" stroke="#000" stroke-width="0.62"/>
<text x="446.4" y="389" text-anchor="middle" textLength="8.18" lengthAdjust="spacingAndGlyphs" fill="#000" >0</text>
<line x1="495.69" y1="375.1" x2="495.69" y2="377.6" stroke="#000" stroke-width="0.62"/>
<text x="495.69" y="389" text-anchor="middle" textLength="16.35" lengthAdjust="spacingAndGlyphs" fill="#000" >20</text>
<line x1="544.97" y1="375.1" x2="544.97" y2="377.6" stroke="#000" stroke-width="0.62"/>
<text x="544.97" y="389" text-anchor="middle" textLength="16.35" lengthAdjust="spacingAndGlyphs" fill="#000" >40</text>
<line x1="594.26" y1="375.1" x2="594.26" y2="377.6" stroke="#000" stroke-width="0.62"/>
<text x="594.26" y="389" text-anchor="middle" textLength="16.35" lengthAdjust="spacingAndGlyphs" fill="#000" >60</text>
<text x="532.65" y="404" text-anchor="middle" textLength="54.09" lengthAdjust="spacingAndGlyphs" fill="#000" ><tspan style="font-style:italic;">ω</tspan> (meV)</text>
<text x="532.65" y="229.5" text-anchor="middle" textLength="95.79" lengthAdjust="spacingAndGlyphs" fill="#000" >Flat-Dispersive</text>
<text x="27.9" y="236.2" text-anchor="start" textLength="14.48" lengthAdjust="spacingAndGlyphs" fill="#000"  font-size="16.1">c)</text>
<text x="41.3" y="304.3" text-anchor="middle" textLength="103.3" lengthAdjust="spacingAndGlyphs" transform="rotate(-90 41.3 304.3)" fill="#000" ><tspan style="font-style:italic;">σ</tspan><tspan style="font-style:italic;font-size:9.94px;" dy="2">xxy</tspan><tspan dy="-2"> (</tspan><tspan style="font-style:italic;">μA</tspan>. <tspan style="font-style:italic;">nm</tspan>/<tspan style="font-style:italic;">V</tspan><tspan style="font-size:9.94px;" dy="-5.8">2</tspan><tspan dy="5.8">)</tspan></text>
<rect x="500.8" y="239.4" width="111.8" height="41.4" rx="2.5" fill="#fff" stroke="#d6d6d6" stroke-width="0.9"/>
<line x1="505.4" y1="249.8" x2="531.8" y2="249.8" stroke="#000" stroke-width="1.2" stroke-dasharray="3.6 1.6"/>
<line x1="505.4" y1="268.2" x2="531.8" y2="268.2" stroke="#000" stroke-width="1.3"/>
<text x="541.3" y="254.6" text-anchor="start" textLength="57.56" lengthAdjust="spacingAndGlyphs" fill="#000" >U=0meV</text>
<text x="541.3" y="273" text-anchor="start" textLength="65.74" lengthAdjust="spacingAndGlyphs" fill="#000" >U=20meV</text>
</svg>
</body></html>
